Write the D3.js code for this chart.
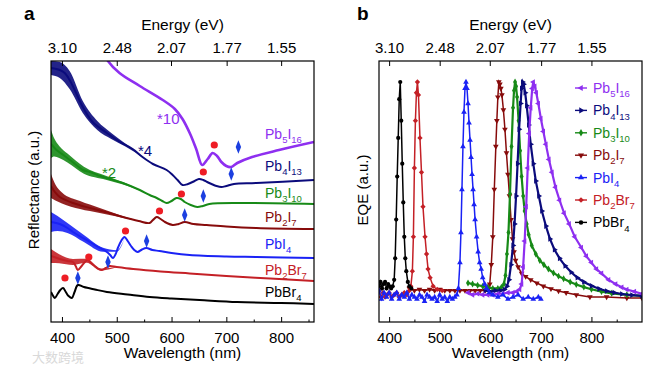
<!DOCTYPE html>
<html>
<head>
<meta charset="utf-8">
<script src="https://cdn.jsdelivr.net/npm/d3@7"></script>
<style>
  body { margin: 0; background: #fff; }
</style>
</head>
<body>
<div id="chart"></div>
<script>
// ---- data ----
const names = ["Pb5I16", "Pb4I13", "Pb3I10", "Pb2I7", "PbI4", "Pb2Br7", "PbBr4"];
const colors = ["#8e2ff0", "#0b0b7c", "#178a17", "#870b0b", "#1a22f5", "#c42026", "#000000"];

const majorTicks = [400, 500, 600, 700, 800];
const minorTicks = [450, 550, 650, 750, 850];
const energyTicks = [3.10, 2.48, 2.07, 1.77, 1.55];

// reflectance (a.u., offset), [wavelength nm, value]
const reflPb5I16 = [[478,26.8],[484,26.1],[505,24.9],[542,23.6],[584,22.2],[606,21.3],[620,20.3],[634,18.8],[645,17.3],[656,15.7],[666,16.3],[675,16.9],[683,16.6],[691,16.0],[700,15.6],[709,15.5],[720,15.9],[747,16.5],[796,17.2],[860,18.0]];
const reflPb4I13 = [[380,25.4],[396,25.2],[405,24.9],[414,24.2],[425,23.0],[438,21.5],[456,20.0],[482,18.9],[506,18.0],[529,17.3],[547,16.5],[566,15.8],[591,15.2],[602,14.7],[611,14.2],[620,13.7],[630,13.8],[642,14.1],[650,14.3],[658,14.2],[665,14.0],[673,13.8],[682,13.6],[691,13.5],[700,13.6],[714,13.8],[755,13.9],[860,14.2]];
const reflPb3I10 = [[380,17.8],[390,17.2],[405,16.6],[424,15.8],[438,15.2],[451,15.0],[470,14.6],[487,14.3],[511,13.9],[542,13.2],[560,12.7],[573,12.4],[583,12.1],[591,11.9],[600,12.1],[609,12.4],[617,12.3],[624,12.0],[635,11.7],[647,11.5],[657,11.6],[669,11.8],[724,11.9],[860,11.8]];
const reflPb2I7 = [[380,13.6],[387,13.0],[396,12.5],[420,11.9],[451,11.4],[480,11.0],[511,10.5],[540,10.1],[560,9.9],[566,10.2],[573,10.5],[580,10.3],[588,10.0],[602,9.7],[613,9.8],[624,10.0],[640,9.8],[664,9.7],[700,9.55],[755,9.4],[860,9.3]];
const reflPbI4 = [[380,10.0],[396,9.8],[410,9.4],[420,9.0],[435,8.5],[451,8.0],[466,7.5],[482,7.0],[488,6.7],[493,6.4],[498,6.8],[502,7.4],[508,8.1],[514,8.5],[520,8.1],[526,7.6],[532,7.2],[538,7.0],[546,7.25],[554,7.4],[565,7.2],[578,7.1],[600,6.9],[633,6.7],[700,6.55],[755,6.5],[860,6.4]];
const reflPb2Br7 = [[380,6.6],[396,6.3],[410,6.1],[420,6.0],[425,5.6],[429,5.2],[436,5.6],[442,6.0],[447,6.2],[453,5.9],[460,5.6],[467,5.3],[473,5.2],[480,5.4],[487,5.6],[500,5.5],[530,5.3],[580,5.05],[633,4.85],[700,4.6],[780,4.35],[860,4.1]];
const reflPbBr4 = [[380,3.0],[384,2.6],[387,2.4],[392,2.8],[397,3.2],[402,3.4],[407,3.0],[412,2.6],[418,2.4],[423,3.0],[429,3.7],[440,3.5],[460,3.25],[482,3.0],[520,2.75],[560,2.5],[600,2.35],[651,2.2],[720,2.0],[800,1.9],[860,1.8]];

// noise half-width at the short-wavelength end, [wavelength, a.u.]
const noisePb4I13 = [[380,0.7],[396,0.8],[414,0.9],[438,0.6],[465,0.45],[490,0.3],[515,0.15],[550,0.03]];
const noisePb3I10 = [[380,1.4],[386,0.9],[395,0.6],[410,0.45],[440,0.35],[480,0.2],[520,0.1],[545,0.03]];
const noisePb2I7 = [[380,1.2],[388,0.8],[400,0.55],[433,0.4],[469,0.25],[500,0.12],[530,0.03]];
const noisePbI4 = [[380,1.0],[392,0.75],[410,0.5],[440,0.35],[475,0.2],[500,0.08],[515,0.02]];
const noisePb2Br7 = [[380,0.7],[395,0.45],[420,0.3],[445,0.2],[470,0.1],[500,0.03]];

// absorption features: red circles and blue diamonds
const peakDots = [[678,17.7],[658,15.0],[618,12.8],[578,11.1],[516,9.1],[449,6.5],[405.5,4.4]];
const peakDiamonds = [[722,17.5],[709,14.8],[658,12.6],[624,10.7],[554.5,8.1],[484,6.0],[429,4.4]];

// EQE (normalised), [wavelength nm, value]
const eqePb5I16 = [[556,0.02],[565,0.01],[575,0.015],[585,0.01],[595,0.01],[605,0.01],[615,0.015],[625,0.015],[635,0.02],[645,0.02],[652,0.025],[658,0.035],[662,0.06],[665,0.14],[668,0.26],[671,0.42],[674,0.6],[677,0.76],[680,0.88],[683,0.97],[685,1.0],[688,0.98],[691,0.95],[695,0.9],[700,0.83],[705,0.77],[710,0.71],[716,0.64],[722,0.58],[729,0.51],[737,0.45],[746,0.39],[756,0.34],[767,0.28],[780,0.23],[790,0.19],[800,0.16],[810,0.13],[820,0.11],[834,0.08],[848,0.06],[860,0.045],[870,0.035],[885,0.025],[900,0.015]];
const eqePb4I13 = [[590,0.03],[600,0.025],[610,0.03],[620,0.03],[628,0.035],[633,0.05],[637,0.08],[641,0.15],[645,0.24],[648,0.34],[651,0.47],[654,0.62],[657,0.78],[660,0.9],[662,0.97],[664,1.0],[666,0.99],[669,0.95],[672,0.89],[676,0.8],[680,0.71],[685,0.62],[690,0.54],[696,0.47],[702,0.4],[710,0.33],[718,0.27],[727,0.22],[737,0.18],[748,0.145],[760,0.115],[772,0.09],[785,0.07],[800,0.052],[815,0.038],[830,0.028],[845,0.02],[860,0.014],[880,0.009],[900,0.005]];
const eqePb3I10 = [[556,0.065],[565,0.06],[575,0.055],[585,0.05],[595,0.045],[605,0.04],[615,0.04],[622,0.045],[627,0.06],[630,0.1],[633,0.2],[636,0.3],[639,0.48],[642,0.7],[645,0.88],[647,0.96],[649,1.0],[651,0.98],[653,0.93],[656,0.82],[659,0.68],[662,0.56],[665,0.47],[668,0.4],[672,0.34],[676,0.29],[682,0.24],[690,0.2],[698,0.17],[706,0.15],[715,0.13],[725,0.112],[735,0.097],[745,0.085],[758,0.07],[770,0.058],[785,0.046],[800,0.036],[820,0.025],[840,0.017],[870,0.01],[900,0.005]];
const eqePb2I7 = [[440,0.04],[450,0.03],[460,0.035],[470,0.03],[480,0.035],[490,0.03],[500,0.035],[510,0.03],[520,0.03],[530,0.03],[540,0.03],[550,0.03],[560,0.03],[570,0.03],[580,0.03],[590,0.03],[596,0.04],[599,0.06],[602,0.15],[605,0.28],[608,0.5],[611,0.7],[613,0.82],[615,0.93],[617,1.0],[619,0.99],[621,0.97],[623,0.94],[626,0.87],[629,0.78],[632,0.67],[635,0.57],[638,0.47],[641,0.36],[644,0.27],[647,0.21],[650,0.17],[655,0.14],[662,0.11],[670,0.095],[680,0.08],[692,0.065],[705,0.05],[720,0.038],[735,0.028],[750,0.02],[770,0.01],[797,0.0],[830,0.0],[870,-0.005],[900,-0.005]];
const eqePbI4 = [[380,0.03],[385,-0.01],[390,0.02],[395,0.0],[400,0.02],[405,-0.01],[410,0.01],[415,0.02],[420,-0.01],[425,0.01],[430,0.0],[435,0.02],[440,-0.01],[445,0.01],[450,0.0],[455,-0.01],[460,0.01],[465,0.0],[470,-0.02],[475,0.01],[480,0.0],[485,-0.01],[490,0.0],[495,-0.02],[500,0.01],[505,-0.01],[510,0.0],[515,-0.02],[520,0.0],[525,-0.01],[530,0.0],[534,0.01],[537,0.04],[540,0.16],[542,0.3],[544,0.5],[546,0.7],[548,0.86],[550,0.97],[552,1.0],[554,0.97],[556,0.9],[558,0.81],[560,0.73],[562,0.65],[564,0.57],[566,0.5],[568,0.43],[570,0.36],[573,0.28],[576,0.21],[579,0.16],[582,0.13],[585,0.09],[589,0.06],[593,0.04],[598,0.02],[605,0.01],[615,0.0],[625,0.01],[635,-0.01],[645,0.0],[655,0.01],[665,-0.01],[675,0.0],[685,-0.01],[695,0.0],[700,-0.01]];
const eqePb2Br7 = [[380,0.03],[384,0.0],[388,0.02],[392,0.0],[396,0.01],[400,0.02],[405,0.0],[410,0.01],[415,0.02],[420,0.0],[425,0.01],[430,0.02],[435,0.01],[440,0.03],[443,0.05],[446,0.12],[448,0.28],[450,0.6],[452,0.82],[454,0.95],[456,1.0],[458,0.94],[461,0.74],[464,0.58],[467,0.42],[471,0.28],[474,0.2],[477,0.13],[481,0.09],[487,0.05],[495,0.035],[505,0.03]];
const eqePbBr4 = [[380,0.05],[383,0.07],[386,0.04],[389,0.06],[392,0.07],[395,0.04],[398,0.06],[401,0.05],[404,0.04],[407,0.05],[410,0.08],[412,0.18],[414,0.36],[416,0.56],[418,0.74],[420,0.92],[422,1.0],[424,0.82],[426,0.62],[428,0.44],[430,0.28],[432,0.18],[434,0.12],[437,0.07],[440,0.05],[444,0.04]];

const reflData = [reflPb5I16, reflPb4I13, reflPb3I10, reflPb2I7, reflPbI4, reflPb2Br7, reflPbBr4];
const noiseData = [null, noisePb4I13, noisePb3I10, noisePb2I7, noisePbI4, noisePb2Br7, null];
const eqeData = [eqePb5I16, eqePb4I13, eqePb3I10, eqePb2I7, eqePbI4, eqePb2Br7, eqePbBr4];

// ---- layout ----
const FONT = '"Liberation Sans", Arial, Helvetica, sans-serif';
const width = 663, height = 374;
const boxA = { left: 51, right: 314, top: 61, bottom: 322 };
const boxB = { left: 379, right: 642, top: 61, bottom: 322 };

const svg = d3.select("#chart").append("svg")
    .attr("width", width)
    .attr("height", height)
    .style("font-family", FONT);

// chemical formula with subscripted digits
function formula(text, name, size) {
    const parts = name.match(/\d+|\D+/g);
    let low = false;
    parts.forEach(p => {
        const t = text.append("tspan").text(p);
        if (/\d/.test(p)) {
            t.attr("font-size", size * 0.68);
            if (!low) t.attr("dy", size * 0.3);
            low = true;
        } else {
            if (low) t.attr("dy", -size * 0.3);
            low = false;
        }
    });
}

function makePanel(box, xDomain, yDomain, id) {
    const x = d3.scaleLinear().domain(xDomain).range([box.left, box.right]);
    const y = d3.scaleLinear().domain(yDomain).range([box.bottom, box.top]);
    svg.append("clipPath").attr("id", id)
        .append("rect")
        .attr("x", box.left).attr("y", box.top)
        .attr("width", box.right - box.left).attr("height", box.bottom - box.top);
    return { x, y, clip: `url(#${id})` };
}

function drawAxes(p, box, yTitle, tag, tagX, yTitleX) {
    const g = svg.append("g");
    const style = a => a.attr("font-size", 15).attr("font-family", FONT)
        .call(s => s.select(".domain").remove());

    g.append("g").attr("transform", `translate(0,${box.bottom})`)
        .call(d3.axisBottom(p.x).tickValues(majorTicks).tickSizeInner(-5).tickSizeOuter(0).tickPadding(10))
        .call(style);
    g.append("g").attr("transform", `translate(0,${box.bottom})`)
        .call(d3.axisBottom(p.x).tickValues(minorTicks).tickSizeInner(-2.5).tickSizeOuter(0).tickFormat(""))
        .call(style);
    g.append("g").attr("transform", `translate(0,${box.top})`)
        .call(d3.axisTop(p.x).tickValues(energyTicks.map(e => 1240 / e))
            .tickFormat(d => d3.format(".2f")(1240 / d))
            .tickSizeInner(-5).tickSizeOuter(0).tickPadding(8))
        .call(style);

    g.append("rect")
        .attr("x", box.left).attr("y", box.top)
        .attr("width", box.right - box.left).attr("height", box.bottom - box.top)
        .attr("fill", "none").attr("stroke", "#000").attr("stroke-width", 1.2);

    const cx = (box.left + box.right) / 2;
    g.append("text").attr("x", cx).attr("y", 29.5).attr("text-anchor", "middle")
        .attr("font-size", 15.5).text("Energy (eV)");
    g.append("text").attr("x", cx).attr("y", 358).attr("text-anchor", "middle")
        .attr("font-size", 15.5).text("Wavelength (nm)");
    g.append("text")
        .attr("transform", `translate(${yTitleX},190) rotate(-90)`)
        .attr("text-anchor", "middle").attr("font-size", 15).text(yTitle);
    g.append("text").attr("x", tagX).attr("y", 20)
        .attr("font-size", 19).attr("font-weight", "bold").text(tag);
}

// ---- panel a: reflectance ----
const pa = makePanel(boxA, [380, 860], [0, 26.1], "clipA");

const lineA = d3.line().x(d => pa.x(d[0])).y(d => pa.y(d[1])).curve(d3.curveCatmullRom);
const gA = svg.append("g").attr("clip-path", pa.clip);

reflData.forEach((series, i) => {
    const noise = noiseData[i];
    if (noise) {
        const base = d3.scaleLinear().domain(series.map(d => d[0])).range(series.map(d => d[1]));
        const band = d3.area()
            .x(d => pa.x(d[0]))
            .y0(d => pa.y(base(d[0]) - d[1]))
            .y1(d => pa.y(base(d[0]) + d[1]))
            .curve(d3.curveMonotoneX);
        gA.append("path").datum(noise)
            .attr("d", band).attr("fill", colors[i]).attr("opacity", 0.9);
    }
    gA.append("path").datum(series)
        .attr("d", lineA)
        .attr("fill", "none")
        .attr("stroke", colors[i])
        .attr("stroke-width", i === 0 ? 2.6 : 2);
});

gA.selectAll(".dot").data(peakDots).enter().append("circle")
    .attr("cx", d => pa.x(d[0])).attr("cy", d => pa.y(d[1]))
    .attr("r", 3.6).attr("fill", "#ee1d25");
gA.selectAll(".dia").data(peakDiamonds).enter().append("path")
    .attr("transform", d => `translate(${pa.x(d[0])},${pa.y(d[1])}) scale(0.8,1.15)`)
    .attr("d", d3.symbol().type(d3.symbolDiamond).size(40))
    .attr("fill", "#1c3fe0");

const labelY = [139, 171, 198, 222, 249, 275, 297];
names.forEach((n, i) => {
    const t = svg.append("text").attr("x", 265).attr("y", labelY[i])
        .attr("font-size", 14).attr("fill", colors[i]);
    formula(t, n, 14);
});

[["*10", 157, 124, colors[0]], ["*4", 138, 156, colors[1]], ["*2", 102, 178, colors[2]]].forEach(s => {
    svg.append("text").attr("x", s[1]).attr("y", s[2])
        .attr("font-size", 15).attr("fill", s[3]).text(s[0]);
});

drawAxes(pa, boxA, "Reflectance (a.u.)", "a", 24, 39);

// ---- panel b: EQE ----
const pb = makePanel(boxB, [380, 900], [-0.1163, 1.0977], "clipB");
const lineB = d3.line().x(d => pb.x(d[0])).y(d => pb.y(d[1]));
const gB = svg.append("g").attr("clip-path", pb.clip);

const markers = [
    { type: d3.symbolTriangle, rot: -90 },
    { type: d3.symbolTriangle, rot: 90 },
    { type: d3.symbolDiamond, rot: 0 },
    { type: d3.symbolTriangle, rot: 180 },
    { type: d3.symbolTriangle, rot: 0 },
    { type: d3.symbolSquare, rot: 45 },
    { type: d3.symbolCircle, rot: 0 }
];
const drawOrder = [3, 2, 1, 0, 5, 6, 4];

drawOrder.forEach(i => {
    const g = gB.append("g");
    g.append("path").datum(eqeData[i])
        .attr("d", lineB).attr("fill", "none")
        .attr("stroke", colors[i]).attr("stroke-width", i < 3 ? 2.2 : 1.5);
    g.selectAll("path.m").data(eqeData[i]).enter().append("path")
        .attr("class", "m")
        .attr("transform", d => `translate(${pb.x(d[0])},${pb.y(d[1])}) rotate(${markers[i].rot})`)
        .attr("d", d3.symbol().type(markers[i].type).size(14))
        .attr("fill", colors[i]);
});

// legend
names.forEach((n, i) => {
    const cy = 88 + i * 22.4;
    const g = svg.append("g");
    g.append("line").attr("x1", 575).attr("x2", 587).attr("y1", cy).attr("y2", cy)
        .attr("stroke", colors[i]).attr("stroke-width", 1.4);
    g.append("path")
        .attr("transform", `translate(581,${cy}) rotate(${markers[i].rot})`)
        .attr("d", d3.symbol().type(markers[i].type).size(16))
        .attr("fill", colors[i]);
    const t = g.append("text").attr("x", 593).attr("y", cy + 5)
        .attr("font-size", 14).attr("fill", colors[i]);
    formula(t, n, 14);
});

drawAxes(pb, boxB, "EQE (a.u.)", "b", 357, 368);

// faint watermark
svg.append("text").attr("x", 32).attr("y", 362)
    .attr("font-size", 13).attr("fill", "#d9d9d9")
    .attr("font-family", '"Noto Sans CJK SC", sans-serif')
    .text("大数跨境");
</script>
</body>
</html>
